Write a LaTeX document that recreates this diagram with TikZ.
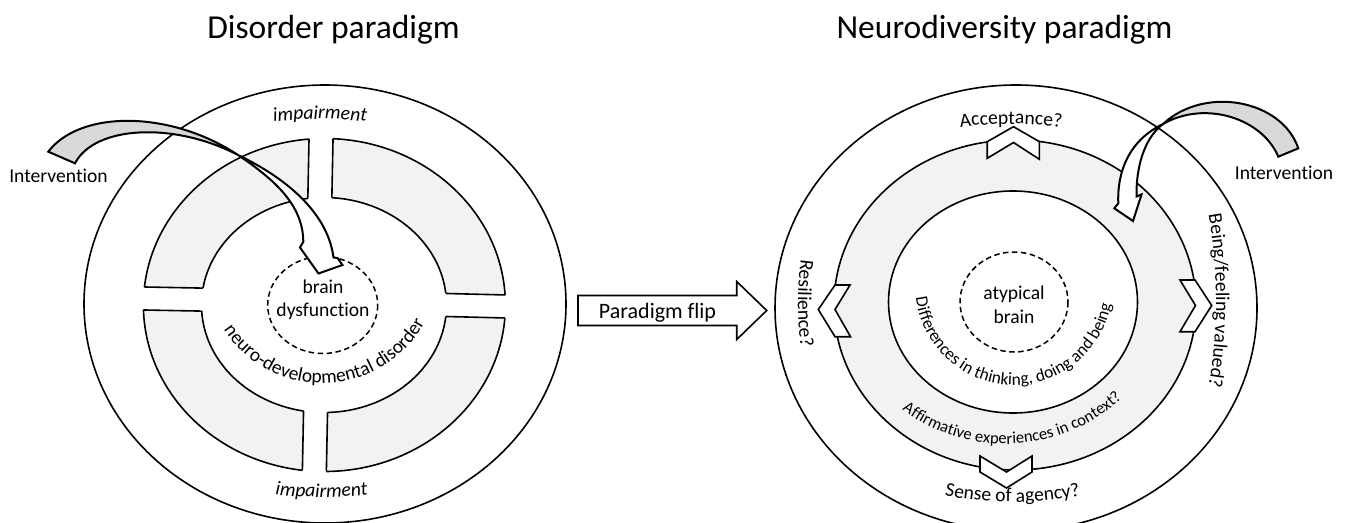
\documentclass[tikz,border=0pt]{standalone}
\usepackage{fontspec}
\setmainfont{Carlito}[Ligatures=NoCommon]
\usetikzlibrary{calc,decorations.text}
\definecolor{ringgray}{HTML}{F2F2F2}
\definecolor{tailgray}{HTML}{D9D9D9}
\newcommand\labfont{\fontsize{19.6}{23.5}\selectfont}
\newcommand\titlefont{\fontsize{33.5}{40}\selectfont}
\newcommand\flipfont{\fontsize{22}{26}\selectfont}
\newcommand\difffont{\fontsize{17.4}{21}\selectfont}
\newcommand\afffont{\fontsize{16.6}{20}\selectfont}
\newcommand\neurofont{\fontsize{19.4}{23}\selectfont}
\tikzset{
  outline/.style={draw=black, line width=1.6pt},
  dashring/.style={draw=black, line width=1.5pt, dash pattern=on 5.5pt off 3.5pt},
  lab/.style={font=\labfont, inner sep=0pt, text=black},
  ttl/.style={font=\titlefont, inner sep=0pt, text=black},
  chevron/.style={draw=black, fill=white, line width=1.6pt, line join=miter},
  bendarrow/.style={draw=black, line width=2pt, line join=miter},
  flipbox/.style={draw=black, fill=white, line width=1.6pt, line join=miter},
  arctext/.style={decorate, decoration={text along path, text align=center, text={#1}}},
}
% gray quarter of the left ring, clipped by a polygon
\newcommand\ringpiece[1]{%
  \begin{scope}
    \clip #1 -- cycle;
    \fill[ringgray, even odd rule] (324.4,305) ellipse [x radius=181, y radius=166.5]
                                   (324,305) ellipse [x radius=122.5, y radius=107.5];
  \end{scope}}
\newcommand\ringedge[1]{%
  \begin{scope}
    \clip #1 -- cycle;
    \draw[outline] (324.4,305) ellipse [x radius=181, y radius=166.5];
    \draw[outline] (324,305) ellipse [x radius=122.5, y radius=107.5];
  \end{scope}}
\begin{document}
\begin{tikzpicture}[x=1pt, y=-1pt, line cap=butt]
\useasboundingbox (0,0) rectangle (1346,522);
\clip (0,0) rectangle (1346,522);
\fill[white] (0,0) rectangle (1346,522);

% ================= LEFT: disorder paradigm =================
\node[ttl, anchor=base] (titleL) at (333.5,38) {Disorder paradigm};
\draw[outline, fill=white] (325,304) ellipse [x radius=241, y radius=219];

\ringpiece{(0,0) -- (311.8,0) -- (306,290.1) -- (0,284.2)}
\ringpiece{(335.8,0) -- (700,0) -- (700,299.8) -- (330,290.6)}
\ringpiece{(0,307.2) -- (305.5,313.1) -- (299.8,600) -- (0,600)}
\ringpiece{(329.5,313.6) -- (700,322.8) -- (700,600) -- (323.8,600)}
\begin{scope}
  \clip (324.4,305) ellipse [x radius=181, y radius=166.5];
  \draw[outline] (311.8,0) -- (306,290.1) -- (0,284.2);
  \draw[outline] (335.8,0) -- (330,290.6) -- (700,299.8);
  \draw[outline] (0,307.2) -- (305.5,313.1) -- (299.8,600);
  \draw[outline] (700,322.8) -- (329.5,313.6) -- (323.8,600);
\end{scope}
\fill[white] (324,305) ellipse [x radius=122.5, y radius=107.5];
\ringedge{(0,0) -- (311.8,0) -- (306,290.1) -- (0,284.2)}
\ringedge{(335.8,0) -- (700,0) -- (700,299.8) -- (330,290.6)}
\ringedge{(0,307.2) -- (305.5,313.1) -- (299.8,600) -- (0,600)}
\ringedge{(329.5,313.6) -- (700,322.8) -- (700,600) -- (323.8,600)}

\draw[dashring] (322.7,305) ellipse [x radius=55, y radius=48.5];
\node[lab, align=center] (brainL) at (323,300) {brain\\dysfunction};

\path[arctext={|\labfont\itshape|impairment}] ($(320,519)+(255:400)$) arc[start angle=255, end angle=285, radius=400];
\path[arctext={|\labfont\itshape|impairment}] ($(321.5,97.3)+(105:400)$) arc[start angle=105, end angle=75, radius=400];
\path[arctext={|\neurofont|neuro-developmental disorder}] ($(322,266.3)+(155:117)$) arc[start angle=155, end angle=20.7, radius=117];

\node[lab, anchor=base] (intL) at (58.5,182) {Intervention};
% curved intervention arrow (left)
\draw[bendarrow, fill=tailgray] (48.3,151.7) .. controls (80,110) and (170,110) .. (238,155)
   .. controls (175,122) and (95,125) .. (75,163.3) -- cycle;
\draw[bendarrow, fill=white] (238,155) .. controls (275,180) and (303,205) .. (303.3,241.7)
   -- (300,247.5) -- (318.5,273.5) -- (342.5,265) -- (337.5,258) -- (333.5,257.5)
   .. controls (328,215) and (290,180) .. (238,155) -- cycle;

% ================= MIDDLE: paradigm flip =================
\draw[flipbox] (578,295.5) -- (736.7,295.5) -- (736.7,281.5) -- (766.7,310.5)
   -- (736.7,339.5) -- (736.7,325.5) -- (578,325.5) -- cycle;
\node[font=\flipfont, inner sep=0pt, anchor=base] (flip) at (657.5,318.3) {Paradigm flip};

% ================= RIGHT: neurodiversity paradigm =================
\node[ttl, anchor=base] (titleR) at (1004.5,38) {Neurodiversity paradigm};
\draw[outline, fill=white] (1016,308) ellipse [x radius=241, y radius=223];
\draw[outline, fill=ringgray] (1015,305) ellipse [x radius=181, y radius=165];
\draw[outline, fill=white] (1013,302) ellipse [x radius=124.5, y radius=111];
\draw[dashring] (1014,302) ellipse [x radius=54, y radius=50];
\node[lab, align=center] (brainR) at (1014,305) {atypical\\brain};

\path[arctext={|\difffont|Differences in thinking, doing and being}] ($(1014,286.3)+(185:98.7)$) arc[start angle=185, end angle=-1, radius=98.7];
\path[arctext={|\afffont|Affirmative experiences in context?}] ($(1005,272)+(150:172)$) arc[start angle=150, end angle=23.8, radius=172];
\path[arctext={|\labfont|Acceptance?}] ($(1011,524)+(255:400)$) arc[start angle=255, end angle=285, radius=400];
\path[arctext={|\labfont|Sense of agency?}] ($(1012.5,152)+(115:350)$) arc[start angle=115, end angle=65, radius=350];
\path[arctext={|\labfont|Resilience?}] ($(1148,303.3)+(192:350)$) arc[start angle=192, end angle=168, radius=350];
\path[arctext={|\labfont|Being/feeling valued?}] ($(716,300.8)+(-12:500)$) arc[start angle=-12, end angle=12, radius=500];

% chevrons on the ring
\draw[chevron] (987.2,158.3) -- (987.2,141.7) -- (1013.5,126.7) -- (1039.4,141.7) -- (1039.4,159.3) -- (1013.5,142.5) -- cycle;
\draw[chevron] (980,456) -- (1006.5,472) -- (1032,456) -- (1032,472) -- (1006.5,488) -- (980,472) -- cycle;
\draw[chevron] (835,285) -- (850,285) -- (835,309.5) -- (850.5,336.7) -- (835,336.7) -- (818.3,309.5) -- cycle;
\draw[chevron] (1180,280) -- (1195,280) -- (1211.7,305.5) -- (1195,331.7) -- (1180,331.7) -- (1195.5,305.5) -- cycle;

\node[lab, anchor=base] (intR) at (1284,179) {Intervention};
% curved intervention arrow (right)
\draw[bendarrow, fill=tailgray] (1298.3,148.3) .. controls (1282,100) and (1205,85) .. (1163,124)
   .. controls (1205,100) and (1262,118) .. (1278.3,156.7) -- cycle;
\draw[bendarrow, fill=white] (1163,124) .. controls (1130,140) and (1117,170) .. (1118.3,203.3)
   -- (1114.3,208.3) -- (1133,221) -- (1141.5,194.5) -- (1136.5,196.5)
   .. controls (1136,160) and (1148,135) .. (1163,124) -- cycle;
\end{tikzpicture}
\end{document}
